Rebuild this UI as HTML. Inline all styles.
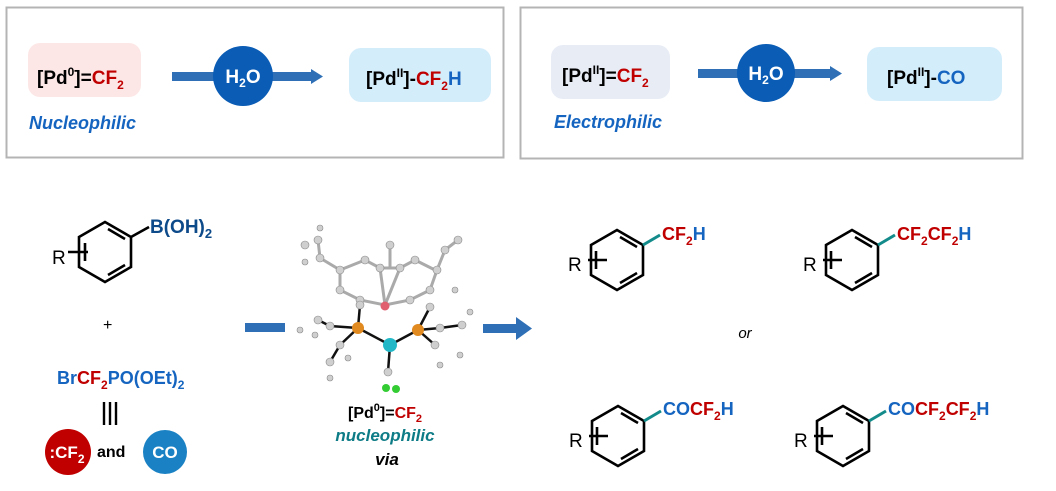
<!DOCTYPE html>
<html><head><meta charset="utf-8"><style>
html,body{margin:0;padding:0;background:#fff}
svg{display:block}
text{font-family:"Liberation Sans",Arial,sans-serif;font-weight:bold}
</style></head><body>
<svg width="1056" height="491" viewBox="0 0 1056 491" xmlns="http://www.w3.org/2000/svg">
<rect x="6.5" y="7.5" width="497" height="150" fill="#fff" stroke="#b4b4b4" stroke-width="2"/>
<rect x="520.5" y="7.5" width="502" height="151" fill="#fff" stroke="#b4b4b4" stroke-width="2"/>
<rect x="28" y="43" width="113" height="54" rx="12" fill="#fde6e6"/>
<text x="37" y="84" font-size="19" fill="#000">[Pd<tspan font-size="12" dy="-8">0</tspan><tspan dy="8">]=</tspan><tspan fill="#c00000">CF</tspan><tspan fill="#c00000" font-size="12" dy="5">2</tspan></text>
<rect x="172" y="72" width="140" height="9" fill="#2e6fb5"/>
<polygon points="311,69 323,76.5 311,84" fill="#2e6fb5"/>
<circle cx="243" cy="76" r="30" fill="#0a5cb5"/>
<text x="243" y="83" font-size="19" fill="#fff" text-anchor="middle">H<tspan font-size="12" dy="4">2</tspan><tspan dy="-4">O</tspan></text>
<rect x="349" y="48" width="142" height="54" rx="12" fill="#d4edfb"/>
<text x="366" y="85" font-size="19" fill="#000">[Pd<tspan font-size="12" dy="-8">II</tspan><tspan dy="8">]-</tspan><tspan fill="#c00000">CF</tspan><tspan fill="#c00000" font-size="12" dy="5">2</tspan><tspan fill="#1565c0" dy="-5">H</tspan></text>
<text x="29" y="129" font-size="18" font-style="italic" fill="#1565c0">Nucleophilic</text>
<rect x="551" y="45" width="119" height="54" rx="12" fill="#e8ecf5"/>
<text x="562" y="82" font-size="19" fill="#000">[Pd<tspan font-size="12" dy="-8">II</tspan><tspan dy="8">]=</tspan><tspan fill="#c00000">CF</tspan><tspan fill="#c00000" font-size="12" dy="5">2</tspan></text>
<rect x="698" y="69" width="133" height="9" fill="#2e6fb5"/>
<polygon points="830,66 842,73.5 830,81" fill="#2e6fb5"/>
<circle cx="766" cy="73" r="29" fill="#0a5cb5"/>
<text x="766" y="80" font-size="19" fill="#fff" text-anchor="middle">H<tspan font-size="12" dy="4">2</tspan><tspan dy="-4">O</tspan></text>
<rect x="867" y="47" width="135" height="54" rx="12" fill="#d4edfb"/>
<text x="887" y="84" font-size="19" fill="#000">[Pd<tspan font-size="12" dy="-8">II</tspan><tspan dy="8">]-</tspan><tspan fill="#1565c0">CO</tspan></text>
<text x="554" y="128" font-size="18" font-style="italic" fill="#1565c0">Electrophilic</text>

<defs>
<g id="ringA" fill="none" stroke="#000" stroke-width="2.6">
<polygon points="0,-30 26,-15 26,15 0,30 -26,15 -26,-15"/>
<line x1="3" y1="-23" x2="20" y2="-13"/>
<line x1="20" y1="13" x2="3" y2="23"/>
<line x1="-20" y1="-9" x2="-20" y2="9"/>
<line x1="-37" y1="0" x2="-17" y2="0"/>
</g>
<g id="ringB" fill="none" stroke="#000" stroke-width="2.6">
<polygon points="0,-30 26,-15 26,15 0,30 -26,15 -26,-15"/>
<line x1="3" y1="-23" x2="20" y2="-13"/>
<line x1="20" y1="13" x2="3" y2="23"/>
<line x1="-21" y1="-9" x2="-21" y2="9"/>
<line x1="-29" y1="0" x2="-10" y2="0"/>
</g>
</defs>
<g transform="translate(105,252)"><use href="#ringA"/><line x1="26" y1="-15" x2="44" y2="-25" stroke="#000" stroke-width="2.6"/></g>
<text x="52" y="264" font-size="19" style="font-weight:normal" fill="#000">R</text>
<text x="150" y="233" font-size="19" fill="#0d4a8a">B(OH)<tspan font-size="13" dy="5">2</tspan></text>
<text x="103" y="330" font-size="16" style="font-weight:normal" fill="#000">+</text>
<text x="57" y="384" font-size="18" fill="#1565c0">Br<tspan fill="#c00000">CF</tspan><tspan fill="#c00000" font-size="12" dy="5">2</tspan><tspan dy="-5">PO(OEt)</tspan><tspan font-size="12" dy="5">2</tspan></text>
<g stroke="#000" stroke-width="2.4"><line x1="104" y1="402" x2="104" y2="425"/><line x1="110" y1="402" x2="110" y2="425"/><line x1="116" y1="402" x2="116" y2="425"/></g>
<circle cx="68" cy="452" r="23" fill="#c00000"/>
<text x="67" y="458" font-size="17" fill="#fff" text-anchor="middle">:CF<tspan font-size="12" dy="5">2</tspan></text>
<text x="97" y="457" font-size="16" fill="#000">and</text>
<circle cx="165" cy="452" r="22" fill="#1a82c4"/>
<text x="165" y="458" font-size="17" fill="#fff" text-anchor="middle">CO</text>

<rect x="245" y="323" width="40" height="9" fill="#2e6fb5"/>
<rect x="483" y="324" width="35" height="9" fill="#2e6fb5"/>
<polygon points="516,317 532,328.5 516,340" fill="#2e6fb5"/>

<g stroke="#111" stroke-width="2.5" fill="none">
<line x1="358" y1="328" x2="390" y2="345"/><line x1="418" y1="330" x2="390" y2="345"/><line x1="390" y1="345" x2="388" y2="372"/>
<line x1="358" y1="328" x2="330" y2="326"/><line x1="358" y1="328" x2="340" y2="345"/><line x1="358" y1="328" x2="360" y2="305"/>
<line x1="418" y1="330" x2="440" y2="328"/><line x1="418" y1="330" x2="435" y2="345"/><line x1="418" y1="330" x2="430" y2="307"/>
<line x1="340" y1="345" x2="330" y2="362"/><line x1="440" y1="328" x2="462" y2="325"/><line x1="330" y1="326" x2="318" y2="320"/>
</g>
<g stroke="#aaa" stroke-width="3" fill="none">
<polyline points="320,258 340,270 340,290 360,300 385,305 410,300 430,290 437,270 445,250"/>
<polyline points="340,270 365,260 380,268 400,268 415,260 435,270"/>
<line x1="380" y1="268" x2="385" y2="305"/><line x1="400" y1="268" x2="385" y2="305"/>
<line x1="390" y1="268" x2="390" y2="245"/><line x1="320" y1="258" x2="318" y2="240"/>
<line x1="445" y1="250" x2="458" y2="240"/>
</g>
<g fill="#cfcfcf" stroke="#888" stroke-width="0.6">
<circle cx="320" cy="258" r="4"/><circle cx="340" cy="270" r="4"/><circle cx="340" cy="290" r="4"/><circle cx="360" cy="300" r="4"/>
<circle cx="410" cy="300" r="4"/><circle cx="430" cy="290" r="4"/><circle cx="437" cy="270" r="4"/><circle cx="445" cy="250" r="4"/>
<circle cx="365" cy="260" r="4"/><circle cx="380" cy="268" r="4"/><circle cx="400" cy="268" r="4"/><circle cx="415" cy="260" r="4"/>
<circle cx="390" cy="245" r="4"/><circle cx="318" cy="240" r="4"/><circle cx="458" cy="240" r="4"/>
<circle cx="330" cy="326" r="4"/><circle cx="340" cy="345" r="4"/><circle cx="360" cy="305" r="4"/>
<circle cx="440" cy="328" r="4"/><circle cx="435" cy="345" r="4"/><circle cx="430" cy="307" r="4"/>
<circle cx="330" cy="362" r="4"/><circle cx="462" cy="325" r="4"/><circle cx="318" cy="320" r="4"/>
<circle cx="388" cy="372" r="4"/><circle cx="305" cy="245" r="4"/><circle cx="320" cy="228" r="3"/><circle cx="305" cy="262" r="3"/>
<circle cx="460" cy="355" r="3"/><circle cx="440" cy="365" r="3"/><circle cx="330" cy="378" r="3"/><circle cx="315" cy="335" r="3"/>
<circle cx="470" cy="312" r="3"/><circle cx="455" cy="290" r="3"/><circle cx="300" cy="330" r="3"/><circle cx="348" cy="358" r="3"/>
</g>
<circle cx="385" cy="306" r="4.5" fill="#e06070"/>
<circle cx="358" cy="328" r="6" fill="#e08a20"/><circle cx="418" cy="330" r="6" fill="#e08a20"/>
<circle cx="390" cy="345" r="7" fill="#22b8c8"/>
<circle cx="386" cy="388" r="4" fill="#33cc33"/><circle cx="396" cy="389" r="4" fill="#33cc33"/>

<text x="385" y="418" font-size="16" fill="#000" text-anchor="middle">[Pd<tspan font-size="11" dy="-7">0</tspan><tspan dy="7">]=</tspan><tspan fill="#c00000">CF</tspan><tspan fill="#c00000" font-size="11" dy="4">2</tspan></text>
<text x="385" y="441" font-size="17" font-style="italic" fill="#0e7c86" text-anchor="middle">nucleophilic</text>
<text x="387" y="465" font-size="17" font-style="italic" fill="#000" text-anchor="middle">via</text>

<g transform="translate(617,260)"><use href="#ringB"/><line x1="26" y1="-15" x2="43" y2="-25" stroke="#138b8b" stroke-width="3"/></g>
<text x="568" y="271" font-size="19" style="font-weight:normal">R</text>
<text x="662" y="240" font-size="18" fill="#c00000">CF<tspan font-size="12" dy="5">2</tspan><tspan fill="#1565c0" dy="-5">H</tspan></text>

<g transform="translate(852,260)"><use href="#ringB"/><line x1="26" y1="-15" x2="43" y2="-25" stroke="#138b8b" stroke-width="3"/></g>
<text x="803" y="271" font-size="19" style="font-weight:normal">R</text>
<text x="897" y="240" font-size="18" fill="#c00000">CF<tspan font-size="12" dy="5">2</tspan><tspan dy="-5">CF</tspan><tspan font-size="12" dy="5">2</tspan><tspan fill="#1565c0" dy="-5">H</tspan></text>

<text x="745" y="338" font-size="15" style="font-weight:normal;font-style:italic" text-anchor="middle">or</text>

<g transform="translate(618,436)"><use href="#ringB"/><line x1="26" y1="-15" x2="43" y2="-25" stroke="#138b8b" stroke-width="3"/></g>
<text x="569" y="447" font-size="19" style="font-weight:normal">R</text>
<text x="663" y="415" font-size="18" fill="#1565c0">CO<tspan fill="#c00000">CF</tspan><tspan fill="#c00000" font-size="12" dy="5">2</tspan><tspan dy="-5">H</tspan></text>

<g transform="translate(843,436)"><use href="#ringB"/><line x1="26" y1="-15" x2="43" y2="-25" stroke="#138b8b" stroke-width="3"/></g>
<text x="794" y="447" font-size="19" style="font-weight:normal">R</text>
<text x="888" y="415" font-size="18" fill="#1565c0">CO<tspan fill="#c00000">CF</tspan><tspan fill="#c00000" font-size="12" dy="5">2</tspan><tspan fill="#c00000" dy="-5">CF</tspan><tspan fill="#c00000" font-size="12" dy="5">2</tspan><tspan dy="-5">H</tspan></text>
</svg>
</body></html>
